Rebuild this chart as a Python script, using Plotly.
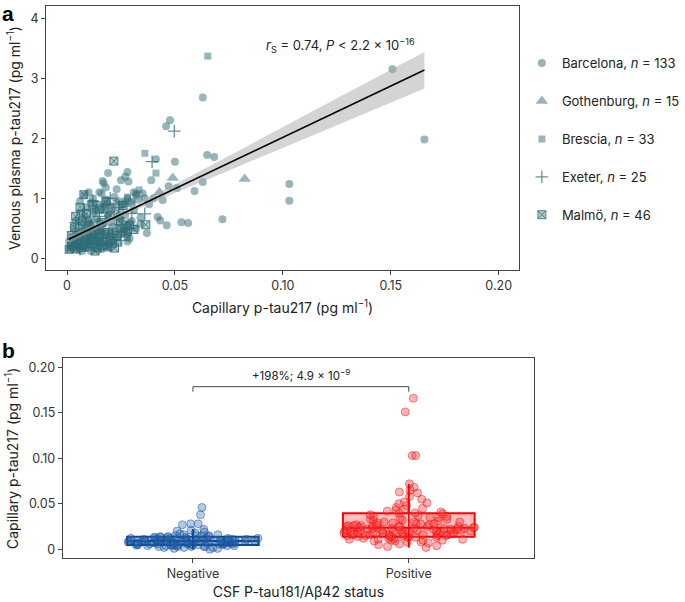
import plotly.graph_objects as go

# ---- panel a: capillary vs venous plasma p-tau217 ----
barcelona_x = [
    0.1508, 0.1656, 0.0629, 0.0477, 0.0459, 0.050, 0.0649, 0.0682, 0.0412, 0.039,
    0.0629, 0.0591, 0.0509, 0.0471, 0.0443, 0.103, 0.103, 0.072, 0.053, 0.0561,
    0.042, 0.0432, 0.0462, 0.037, 0.034, 0.019, 0.0165, 0.017, 0.028, 0.0285,
    0.027, 0.025, 0.028, 0.015, 0.023, 0.031, 0.018, 0.036, 0.038, 0.040,
    0.001, 0.002, 0.003, 0.004, 0.005, 0.006, 0.007, 0.008, 0.009, 0.010,
    0.011, 0.012, 0.002, 0.004, 0.006, 0.008, 0.010, 0.013, 0.015, 0.016,
    0.005, 0.006, 0.007, 0.008, 0.009, 0.010, 0.011, 0.012, 0.013, 0.014,
    0.015, 0.016, 0.017, 0.018, 0.019, 0.020, 0.021, 0.022, 0.009, 0.011,
    0.006, 0.008, 0.010, 0.012, 0.014, 0.016, 0.018, 0.020, 0.022, 0.024,
    0.026, 0.028, 0.030, 0.032, 0.033, 0.035, 0.013, 0.017,
    0.023, 0.024, 0.025, 0.026, 0.027, 0.028, 0.029, 0.030, 0.031, 0.028,
    0.026, 0.024, 0.022, 0.032, 0.034,
    0.003, 0.005, 0.007, 0.009, 0.011, 0.013, 0.015, 0.017, 0.019, 0.020,
    0.018, 0.014, 0.012, 0.001, 0.003, 0.004, 0.006, 0.016, 0.020, 0.021,
]
barcelona_y = [
    3.15, 1.98, 2.68, 2.30, 2.20, 1.61, 1.72, 1.69, 1.65, 1.30,
    1.27, 1.12, 1.17, 1.20, 0.97, 1.24, 0.96, 0.65, 0.60, 0.59,
    0.69, 0.63, 0.55, 0.42, 0.58, 1.42, 1.29, 1.25, 1.44, 1.28,
    1.36, 1.30, 0.35, 1.10, 1.15, 1.10, 1.18, 1.00, 0.90, 1.00,
    0.15, 0.22, 0.18, 0.28, 0.14, 0.25, 0.20, 0.33, 0.17, 0.26,
    0.12, 0.30, 0.35, 0.40, 0.16, 0.22, 0.38, 0.20, 0.28, 0.15,
    0.45, 0.60, 0.52, 0.70, 0.48, 0.62, 0.55, 0.75, 0.42, 0.66,
    0.50, 0.80, 0.58, 0.44, 0.72, 0.60, 0.52, 0.78, 0.85, 0.92,
    0.95, 1.05, 1.10, 1.00, 0.90, 1.08, 0.98, 0.88, 1.02, 0.95,
    0.90, 1.00, 0.92, 1.05, 0.98, 1.08, 0.82, 0.86,
    0.35, 0.50, 0.65, 0.42, 0.72, 0.55, 0.33, 0.62, 0.80, 0.28,
    0.58, 0.25, 0.45, 0.50, 0.68,
    0.30, 0.35, 0.12, 0.42, 0.33, 0.36, 0.38, 0.30, 0.25, 0.35,
    0.20, 0.14, 0.45, 0.28, 0.50, 0.62, 0.75, 0.45, 0.18, 0.28,
]

gothenburg_x = [0.0823, 0.049, 0.0428, 0.003, 0.006, 0.008, 0.010, 0.012,
                0.015, 0.018, 0.020, 0.024, 0.027, 0.005, 0.014]
gothenburg_y = [1.32, 1.34, 1.10, 0.20, 0.35, 0.50, 0.28, 0.62,
                0.45, 0.80, 0.38, 0.70, 0.90, 0.18, 0.25]

brescia_x = [0.0652, 0.0361, 0.0412, 0.0334, 0.032, 0.030, 0.028,
             0.002, 0.004, 0.006, 0.008, 0.010, 0.012, 0.014, 0.016, 0.018,
             0.020, 0.022, 0.015, 0.019, 0.021, 0.023, 0.025, 0.027, 0.029,
             0.026, 0.024, 0.011, 0.009, 0.007, 0.005, 0.013, 0.017]
brescia_y = [3.37, 1.75, 1.42, 1.14, 1.08, 0.95, 1.02,
             0.18, 0.25, 0.20, 0.30, 0.22, 0.35, 0.28, 0.42, 0.38,
             0.45, 0.32, 0.60, 0.70, 0.85, 0.92, 0.80, 0.95, 0.60,
             0.48, 0.40, 0.50, 0.65, 0.45, 0.38, 0.78, 0.90]

exeter_x = [0.0497, 0.0394, 0.036, 0.003, 0.005, 0.007, 0.009, 0.011, 0.013,
            0.015, 0.017, 0.019, 0.021, 0.023, 0.025, 0.004, 0.008, 0.012,
            0.016, 0.020, 0.024, 0.028, 0.006, 0.010, 0.030]
exeter_y = [2.12, 1.61, 0.74, 0.20, 0.30, 0.45, 0.25, 0.55, 0.35,
            0.70, 0.50, 0.90, 0.40, 0.65, 0.30, 0.60, 0.80, 0.95,
            0.22, 1.00, 0.85, 0.50, 0.15, 0.38, 0.75]

malmo_x = [0.0217, 0.0078, 0.0035, 0.022, 0.0186, 0.0365, 0.028,
           0.001, 0.002, 0.003, 0.004, 0.005, 0.006, 0.007, 0.008, 0.009,
           0.010, 0.011, 0.012, 0.013, 0.014, 0.015, 0.016, 0.017, 0.018,
           0.020, 0.021, 0.023, 0.025, 0.027, 0.029, 0.031,
           0.004, 0.006, 0.009, 0.012, 0.015, 0.018, 0.020, 0.024, 0.026,
           0.010, 0.007, 0.002, 0.013, 0.016]
malmo_y = [1.62, 1.06, 0.51, 0.17, 0.19, 0.56, 0.45,
           0.15, 0.20, 0.28, 0.16, 0.22, 0.32, 0.18, 0.26, 0.40,
           0.20, 0.30, 0.24, 0.45, 0.18, 0.35, 0.28, 0.22, 0.40,
           0.30, 0.25, 0.38, 0.50, 0.42, 0.55, 0.48,
           0.70, 0.85, 0.75, 0.90, 0.82, 0.95, 0.72, 0.62, 0.88,
           0.55, 0.62, 0.38, 0.12, 0.60]

# fitted line and 95% band
fit_x = [0.0008, 0.1656]
fit_y = [0.317, 3.138]
band_x = [0.0008, 0.01, 0.02, 0.035, 0.05, 0.08, 0.11, 0.14, 0.1656]
band_lo = [0.25, 0.42, 0.60, 0.85, 1.09, 1.54, 1.99, 2.45, 2.83]
band_hi = [0.38, 0.53, 0.69, 0.95, 1.23, 1.80, 2.38, 2.95, 3.44]

# ---- panel b: capillary p-tau217 by CSF status ----
status = ["Negative", "Positive"]
negative_vals = [
    0.046, 0.038, 0.028, 0.027, 0.028, 0.022, 0.021, 0.020, 0.019, 0.018,
    0.017, 0.016, 0.015, 0.015, 0.014, 0.014, 0.014, 0.013, 0.013, 0.013,
    0.013, 0.012, 0.012, 0.012, 0.012, 0.012, 0.011, 0.011, 0.011, 0.011,
    0.011, 0.010, 0.010, 0.010, 0.010, 0.010, 0.010, 0.009, 0.009, 0.009,
    0.009, 0.009, 0.009, 0.009, 0.009, 0.008, 0.008, 0.008, 0.008, 0.008,
    0.008, 0.008, 0.007, 0.007, 0.007, 0.007, 0.007, 0.007, 0.007, 0.006,
    0.006, 0.006, 0.006, 0.006, 0.006, 0.005, 0.005, 0.005, 0.005, 0.005,
    0.005, 0.005, 0.004, 0.004, 0.004, 0.004, 0.004, 0.004, 0.003, 0.003,
    0.003, 0.003, 0.003, 0.002, 0.002, 0.002, 0.001, 0.001, 0.000, 0.015,
    0.016, 0.013, 0.012, 0.011, 0.010, 0.009, 0.008, 0.007, 0.006, 0.005,
    0.0145, 0.0105, 0.0085, 0.0065, 0.0045,
]
positive_vals = [
    0.166, 0.151, 0.103, 0.103, 0.072, 0.068, 0.065, 0.063, 0.062, 0.058,
    0.055, 0.052, 0.051, 0.050, 0.048, 0.046, 0.045, 0.044, 0.043, 0.042,
    0.041, 0.040, 0.040, 0.039, 0.038, 0.037, 0.036, 0.035, 0.035, 0.034,
    0.033, 0.032, 0.032, 0.031, 0.030, 0.030, 0.029, 0.029, 0.028, 0.028,
    0.027, 0.027, 0.027, 0.026, 0.026, 0.026, 0.025, 0.025, 0.025, 0.025,
    0.024, 0.024, 0.024, 0.024, 0.023, 0.023, 0.023, 0.023, 0.022, 0.022,
    0.022, 0.022, 0.021, 0.021, 0.021, 0.021, 0.020, 0.020, 0.020, 0.020,
    0.019, 0.019, 0.019, 0.019, 0.018, 0.018, 0.018, 0.018, 0.017, 0.017,
    0.017, 0.017, 0.016, 0.016, 0.016, 0.016, 0.015, 0.015, 0.015, 0.015,
    0.014, 0.014, 0.014, 0.014, 0.013, 0.013, 0.013, 0.012, 0.012, 0.012,
    0.011, 0.011, 0.011, 0.010, 0.010, 0.010, 0.009, 0.009, 0.008, 0.008,
    0.007, 0.006, 0.005, 0.004, 0.003, 0.002, 0.026, 0.024, 0.022, 0.020,
    0.018, 0.016, 0.028, 0.030, 0.033, 0.036, 0.019, 0.021, 0.023, 0.025,
    0.017, 0.015,
]
# box statistics as drawn: q1, median, q3, lower/upper whisker
neg_stats = [0.0047, 0.0091, 0.0139, 0.0, 0.022]
pos_stats = [0.0139, 0.0237, 0.0396, 0.002, 0.0718]
bracket_y = [0.1732, 0.1787, 0.1787, 0.1732]

TEAL = "rgba(47,110,120,0.5)"
TEAL_LINE = "rgba(47,110,120,0.75)"
FONT = "Inter, Roboto, sans-serif"

fig = go.Figure()

groups = [
    ("Barcelona", 133, barcelona_x, barcelona_y, "circle", 8),
    ("Gothenburg", 15, gothenburg_x, gothenburg_y, "triangle-up", 11),
    ("Brescia", 33, brescia_x, brescia_y, "square", 7),
    ("Exeter", 25, exeter_x, exeter_y, "cross-thin", 9),
    ("Malmö", 46, malmo_x, malmo_y, "square-x", 8),
]
for name, n, xs, ys, sym, size in groups:
    if sym == "cross-thin":
        marker = dict(symbol=sym, size=size, color=TEAL_LINE,
                      line=dict(color=TEAL_LINE, width=1.3))
    elif sym == "square-x":
        marker = dict(symbol=sym, size=size, color="rgba(47,110,120,0.35)",
                      line=dict(color="rgba(47,110,120,0.8)", width=1))
    else:
        marker = dict(symbol=sym, size=size, color=TEAL, line=dict(width=0))
    fig.add_trace(go.Scatter(
        x=xs, y=ys, mode="markers", marker=marker,
        name=f"{name}, <i>n</i> = {n}", legendgroup=name,
        xaxis="x", yaxis="y",
    ))

fig.add_trace(go.Scatter(x=band_x, y=band_hi, mode="lines", line=dict(width=0),
                         showlegend=False, hoverinfo="skip", xaxis="x", yaxis="y"))
fig.add_trace(go.Scatter(x=band_x, y=band_lo, mode="lines", line=dict(width=0),
                         fill="tonexty", fillcolor="rgba(170,170,170,0.5)",
                         showlegend=False, hoverinfo="skip", xaxis="x", yaxis="y"))
fig.add_trace(go.Scatter(x=fit_x, y=fit_y, mode="lines",
                         line=dict(color="black", width=1.5),
                         showlegend=False, xaxis="x", yaxis="y"))

box_styles = [
    (negative_vals, neg_stats, "#0d4a93", "rgba(13,74,147,0.28)",
     "rgba(40,100,175,0.35)", "rgba(13,74,147,0.45)"),
    (positive_vals, pos_stats, "#ff0000", "rgba(255,0,0,0.25)",
     "rgba(255,60,60,0.38)", "rgba(230,0,0,0.45)"),
]
for cat, (vals, st, lc, fc, mc, ml) in zip(status, box_styles):
    fig.add_trace(go.Box(
        x=[cat], y=[vals],
        q1=[st[0]], median=[st[1]], q3=[st[2]],
        lowerfence=[st[3]], upperfence=[st[4]],
        boxpoints="all", jitter=1, pointpos=0, width=0.61,
        whiskerwidth=0, line=dict(color=lc, width=2), fillcolor=fc,
        marker=dict(size=8, color=mc, line=dict(color=ml, width=1)),
        showlegend=False, xaxis="x2", yaxis="y2",
    ))
    # whisker line runs straight through the box, as in the original
    fig.add_trace(go.Scatter(
        x=[cat, cat], y=[st[3], st[4]], mode="lines",
        line=dict(color=lc, width=1.5), showlegend=False, hoverinfo="skip",
        xaxis="x2", yaxis="y2",
    ))

fig.add_trace(go.Scatter(
    x=[status[0], status[0], status[1], status[1]], y=bracket_y,
    mode="lines", line=dict(color="#444", width=1),
    showlegend=False, xaxis="x2", yaxis="y2",
))

axis_common = dict(
    showgrid=False, zeroline=False, showline=True, mirror=True,
    linecolor="#444", linewidth=1, ticks="outside", ticklen=4,
    tickcolor="#444", tickfont=dict(size=12.5, color="#333"),
    title_font=dict(size=14, color="#222"),
)

fig.update_layout(
    width=685, height=602,
    margin=dict(l=0, r=0, t=0, b=0),
    paper_bgcolor="white", plot_bgcolor="white",
    font=dict(family=FONT, color="#222"),
    boxmode="overlay",
    xaxis=dict(domain=[0.0686, 0.7723], range=[-0.0097, 0.2094],
               tickvals=[0, 0.05, 0.10, 0.15, 0.20],
               ticktext=["0", "0.05", "0.10", "0.15", "0.20"],
               title=dict(text="Capillary p-tau217 (pg ml<sup>−1</sup>)", standoff=11),
               anchor="y", **axis_common),
    yaxis=dict(domain=[0.5515, 0.990], range=[-0.195, 4.205],
               tickvals=[0, 1, 2, 3, 4],
               title=dict(text="Venous plasma p-tau217 (pg ml<sup>−1</sup>)", standoff=6),
               anchor="x", **axis_common),
    xaxis2=dict(domain=[0.0934, 0.7946], range=[-0.603, 1.58],
                type="category", categoryorder="array", categoryarray=status,
                title=dict(text="CSF P-tau181/Aβ42 status", standoff=6),
                anchor="y2", **axis_common),
    yaxis2=dict(domain=[0.0726, 0.4048], range=[-0.0099, 0.2099],
                tickvals=[0, 0.05, 0.10, 0.15, 0.20],
                ticktext=["0", "0.05", "0.10", "0.15", "0.20"],
                title=dict(text="Capillary p-tau217 (pg ml<sup>−1</sup>)", standoff=6),
                anchor="x2", **axis_common),
    legend=dict(x=0.7766, y=0.92, xanchor="left", yanchor="top",
                traceorder="grouped", tracegroupgap=18,
                font=dict(size=13, color="#222"), bgcolor="rgba(0,0,0,0)",
                itemsizing="trace"),
    annotations=[
        dict(text="<b>a</b>", x=0.0, y=1.0, xref="paper", yref="paper",
             xanchor="left", yanchor="top", showarrow=False,
             font=dict(size=21, color="black", family="Liberation Sans")),
        dict(text="<b>b</b>", x=0.0, y=1 - 337 / 602, xref="paper", yref="paper",
             xanchor="left", yanchor="top", showarrow=False,
             font=dict(size=21, color="black", family="Liberation Sans")),
        dict(text="<i>r</i><sub>S</sub> = 0.74, <i>P</i> < 2.2 × 10<sup>−16</sup>",
             x=0.1267, y=3.55, xref="x", yref="y", showarrow=False,
             font=dict(size=13, color="#222")),
        dict(text="+198%; 4.9 × 10<sup>−9</sup>", x=0.5, y=0.1787,
             xref="x2", yref="y2", yanchor="bottom", yshift=2, showarrow=False,
             font=dict(size=11.5, color="#222")),
    ],
)

fig.write_html("out.html", config={"displayModeBar": False},
               post_script="document.body.style.margin='0';")
